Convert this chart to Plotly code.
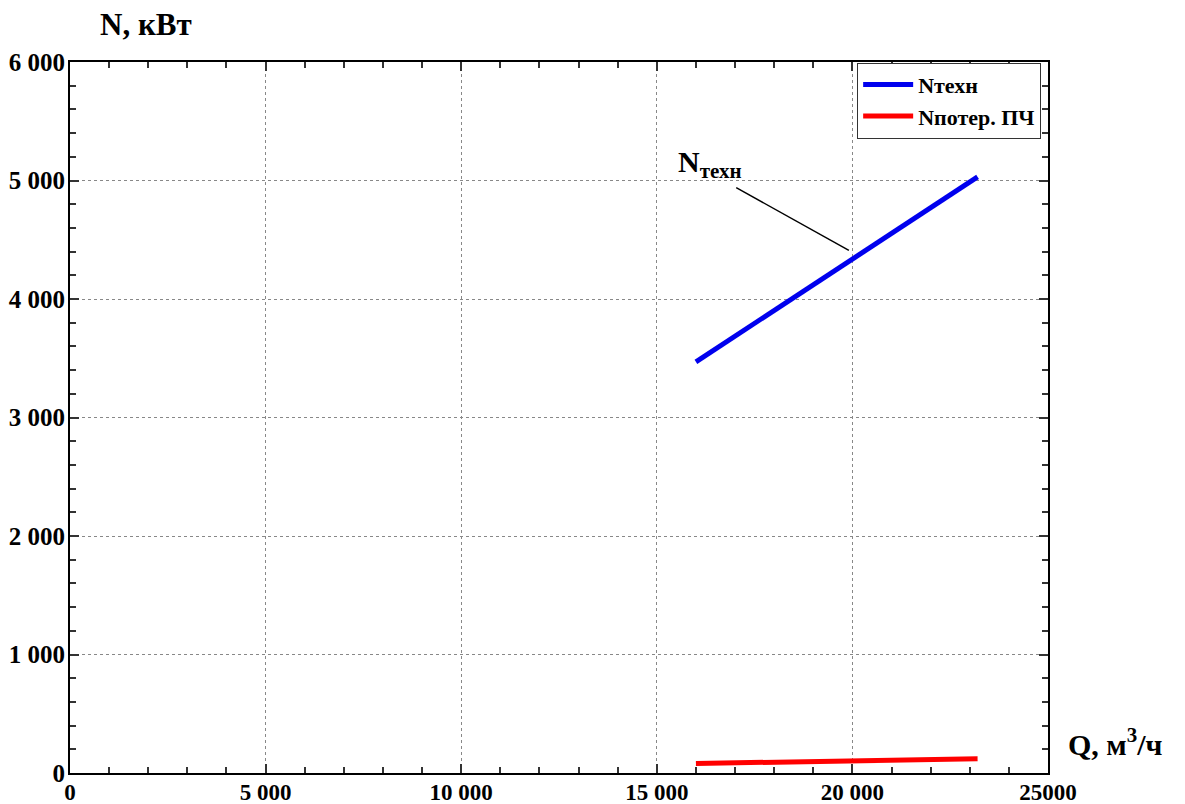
import plotly.graph_objects as go

# Flow rate, m3/h
q_values = [16000, 23200]
# Technological power, kW
n_tech = [3470, 5030]
# Frequency converter losses, kW
n_loss = [80, 120]

x_tick_vals = [0, 5000, 10000, 15000, 20000, 25000]
x_tick_text = ["0", "5 000", "10 000", "15 000", "20 000", "25000"]
y_tick_vals = [0, 1000, 2000, 3000, 4000, 5000, 6000]
y_tick_text = ["0", "1 000", "2 000", "3 000", "4 000", "5 000", "6 000"]

FONT = "Liberation Serif"


def bold(labels):
    return ["<b>%s</b>" % t for t in labels]


fig = go.Figure()
fig.add_trace(go.Scatter(x=q_values, y=n_tech, mode="lines", name="<b>Nтехн</b>",
                         line=dict(color="#0000ee", width=5)))
fig.add_trace(go.Scatter(x=q_values, y=n_loss, mode="lines", name="<b>Nпотер. ПЧ</b>",
                         line=dict(color="#ff0000", width=5)))

# Callout label with a leader line to the technological power curve
label_pos = (16350, 5140)
leader_start = (17030, 4940)
leader_end = (19910, 4410)
fig.add_annotation(x=label_pos[0], y=label_pos[1], xref="x", yref="y",
                   text="<b>N<sub>техн</sub></b>", showarrow=False,
                   font=dict(family=FONT, size=30, color="black"))
fig.add_shape(type="line", xref="x", yref="y",
              x0=leader_start[0], y0=leader_start[1],
              x1=leader_end[0], y1=leader_end[1],
              line=dict(color="black", width=1.5))

# Axis titles
fig.add_annotation(xref="paper", yref="paper", x=0.0, y=1.0, xanchor="left",
                   yanchor="bottom", yshift=18, xshift=28,
                   text="<b>N, кВт</b>", showarrow=False,
                   font=dict(family=FONT, size=31, color="black"))
fig.add_annotation(xref="paper", yref="paper", x=1.0, y=0.0, xanchor="left",
                   yanchor="bottom", yshift=10, xshift=18,
                   text="<b>Q, м<sup>3</sup>/ч</b>", showarrow=False,
                   font=dict(family=FONT, size=30, color="black"))

axis_common = dict(
    showline=True, linecolor="black", linewidth=2, mirror="ticks",
    ticks="inside", ticklen=9, tickwidth=1.5, tickcolor="#333",
    showgrid=True, gridcolor="#888", griddash="dot", gridwidth=1,
    zeroline=False, automargin=False,
)

fig.update_xaxes(range=[0, 25000], tickmode="array", tickvals=x_tick_vals,
                 ticktext=bold(x_tick_text), ticklabelstandoff=-3,
                 tickfont=dict(family=FONT, size=23, color="black"),
                 minor=dict(dtick=1000, ticks="inside", ticklen=6,
                            tickcolor="#333", showgrid=False),
                 **axis_common)
fig.update_yaxes(range=[0, 6000], tickmode="array", tickvals=y_tick_vals,
                 ticktext=bold(y_tick_text), ticklabelstandoff=-2,
                 tickfont=dict(family=FONT, size=25, color="black"),
                 minor=dict(dtick=200, ticks="inside", ticklen=6,
                            tickcolor="#333", showgrid=False),
                 **axis_common)

fig.update_layout(
    width=1185, height=804,
    margin=dict(l=70, r=137, t=62, b=31),
    plot_bgcolor="white", paper_bgcolor="white",
    font=dict(family=FONT, color="black"),
    legend=dict(x=0.993, y=0.999, xanchor="right", yanchor="top",
                bgcolor="white", bordercolor="#333", borderwidth=1,
                font=dict(family=FONT, size=22, color="black"),
                itemwidth=50, tracegroupgap=0),
    showlegend=True,
)

fig.write_html("out.html")
